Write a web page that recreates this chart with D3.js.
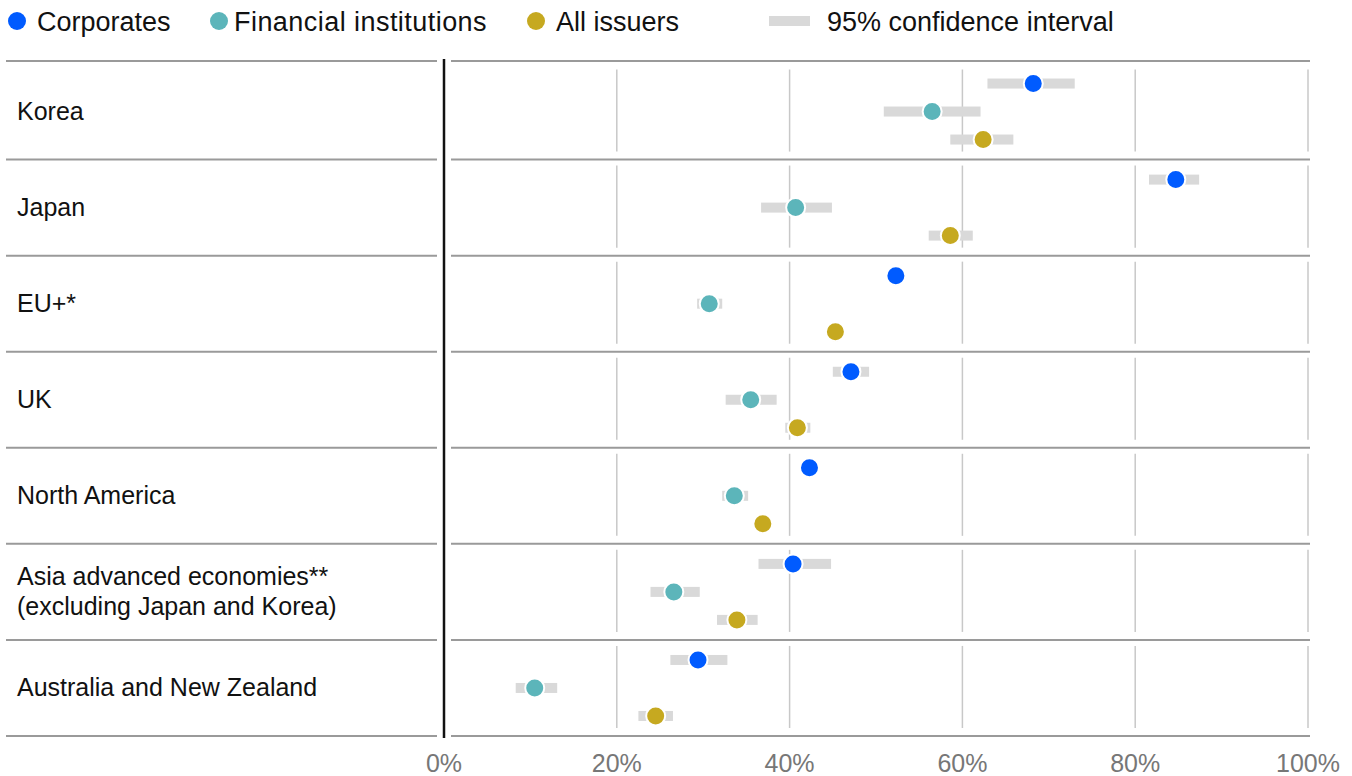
<!DOCTYPE html>
<html><head><meta charset="utf-8">
<script src="https://cdn.jsdelivr.net/npm/d3@7/dist/d3.min.js"></script>
<style>
html,body{margin:0;padding:0;background:#fff;}
text{font-family:"Liberation Sans",Arial,sans-serif;}
</style></head>
<body><svg id="chart" width="1352" height="776"></svg>
<script>
const categories = ["Korea","Japan","EU+*","UK","North America","Asia advanced economies**|(excluding Japan and Korea)","Australia and New Zealand"];
const seriesNames = ["Corporates","Financial institutions","All issuers"];
const corporates   = [68.2, 84.7, 52.3, 47.1, 42.3, 40.4, 29.4];
const corporatesLo = [62.9, 81.6, 52.1, 45.0, 42.1, 36.4, 26.2];
const corporatesHi = [73.0, 87.4, 52.5, 49.2, 42.5, 44.8, 32.8];
const financial    = [56.5, 40.7, 30.7, 35.5, 33.6, 26.6, 10.5];
const financialLo  = [50.9, 36.7, 29.3, 32.6, 32.2, 23.9, 8.3];
const financialHi  = [62.1, 44.9, 32.2, 38.5, 35.2, 29.6, 13.1];
const allIssuers   = [62.4, 58.6, 45.3, 40.9, 36.9, 33.9, 24.5];
const allIssuersLo = [58.6, 56.1, 45.1, 39.5, 36.7, 31.6, 22.5];
const allIssuersHi = [65.9, 61.2, 45.5, 42.4, 37.1, 36.3, 26.5];
const xTicks = [0, 20, 40, 60, 80, 100];
const ciLabel = "95% confidence interval";

const colors = ["#005bff", "#5cb5ba", "#c6a920"];
const seriesData = [
  {v: corporates, lo: corporatesLo, hi: corporatesHi},
  {v: financial, lo: financialLo, hi: financialHi},
  {v: allIssuers, lo: allIssuersLo, hi: allIssuersHi}
];

const svg = d3.select("#chart");
const x = d3.scaleLinear().domain([0, 100]).range([444, 1308]);
const y = d3.scaleBand().domain(categories).range([63.5, 736]);
const offsets = [-28, 0, 28];

// legend
const leg = svg.append("g");
const legX = [17, 219, 536], legTX = [37, 234, 556];
seriesNames.forEach((n, i) => {
  leg.append("circle").attr("cx", legX[i]).attr("cy", 21).attr("r", 9).attr("fill", colors[i]);
  leg.append("text").attr("x", legTX[i]).attr("y", 31).attr("font-size", 27).attr("fill", "#111")
    .attr("letter-spacing", i === 1 ? 0.45 : 0).text(n);
});
leg.append("rect").attr("x", 769).attr("y", 16).attr("width", 41).attr("height", 10).attr("fill", "#d9d9d9");
leg.append("text").attr("x", 827).attr("y", 31).attr("font-size", 27).attr("fill", "#111").text(ciLabel);

// row lines
const bounds = categories.map(c => y(c)).concat([y.range()[1]]);
bounds[0] = 61;
const rl = svg.append("g");
bounds.forEach(b => {
  rl.append("line").attr("x1", 6).attr("x2", 437).attr("y1", b).attr("y2", b).attr("stroke", "#9a9a9a").attr("stroke-width", 2);
  rl.append("line").attr("x1", 451).attr("x2", 1310).attr("y1", b).attr("y2", b).attr("stroke", "#9a9a9a").attr("stroke-width", 2);
});

// gridlines per row
const gg = svg.append("g");
categories.forEach(c => {
  xTicks.filter(t => t > 0).forEach(t => {
    gg.append("line").attr("x1", x(t)).attr("x2", x(t))
      .attr("y1", y(c) + 6).attr("y2", y(c) + y.bandwidth() - 8)
      .attr("stroke", "#c8c8c8").attr("stroke-width", 1.5);
  });
});

// zero line
svg.append("line").attr("x1", x(0)).attr("x2", x(0)).attr("y1", 59).attr("y2", 738)
  .attr("stroke", "#111").attr("stroke-width", 2.5);

// row labels
const lab = svg.append("g");
categories.forEach(c => {
  const parts = c.split("|");
  const cy = y(c) + y.bandwidth() / 2 - 1;
  const lh = 30;
  parts.forEach((p, j) => {
    lab.append("text").attr("x", 17)
      .attr("y", cy + (j - (parts.length - 1) / 2) * lh)
      .attr("dy", "0.36em").attr("font-size", 25).attr("fill", "#111").text(p);
  });
});

// CI bars and dots
const marks = svg.append("g");
seriesData.forEach((s, i) => {
  categories.forEach((c, k) => {
    const cy = y(c) + y.bandwidth() / 2 + offsets[i];
    marks.append("rect").attr("x", x(s.lo[k])).attr("width", x(s.hi[k]) - x(s.lo[k]))
      .attr("y", cy - 5).attr("height", 10).attr("fill", "#d9d9d9");
  });
});
seriesData.forEach((s, i) => {
  categories.forEach((c, k) => {
    const cy = y(c) + y.bandwidth() / 2 + offsets[i];
    marks.append("circle").attr("cx", x(s.v[k])).attr("cy", cy).attr("r", 9.5)
      .attr("fill", colors[i]).attr("stroke", "#fff").attr("stroke-width", 2);
  });
});

// x axis tick labels
const ax = svg.append("g");
xTicks.forEach(t => {
  ax.append("text").attr("x", x(t)).attr("y", 772).attr("text-anchor", "middle")
    .attr("font-size", 25).attr("fill", "#777").text(t + "%");
});
</script></body></html>
